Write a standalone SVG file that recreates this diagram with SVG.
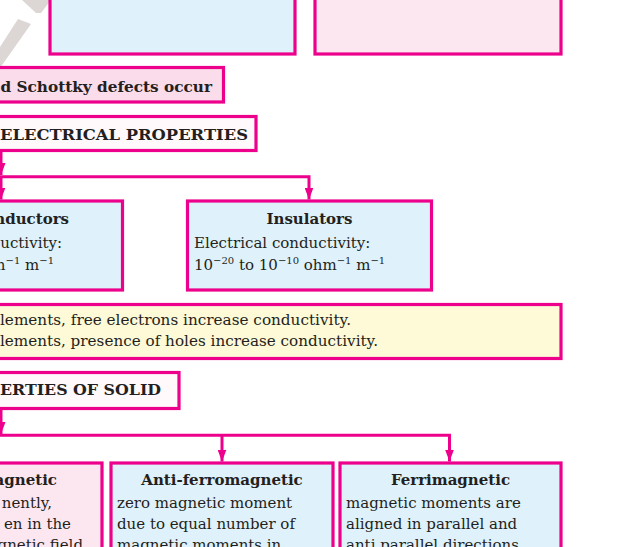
<svg xmlns="http://www.w3.org/2000/svg" width="638" height="547" viewBox="0 0 638 547">
<style>
.box{stroke:#ec008c;stroke-width:3.2}
.blue{fill:#dff1fb}
.pink{fill:#fce6f0}
.pink2{fill:#fbdcea}
.white{fill:#fff9fb}
.yellow{fill:#fef9d6}
.conn{fill:none;stroke:#ec008c;stroke-width:3}
.wm{fill:#dcd7d5}
text{font-family:"DejaVu Serif","Liberation Serif",serif;font-size:15px;fill:#231f20}
.b{font-weight:bold}
.sup{font-size:10px}
</style>
<defs>
<marker id="ah" markerUnits="userSpaceOnUse" markerWidth="12" markerHeight="9" refX="12" refY="4.5" orient="auto">
<path d="M0,0 L12,4.5 L0,9 z" fill="#ec008c"/>
</marker>
</defs>
<rect width="638" height="547" fill="#ffffff"/>
<g id="watermark">
<polygon class="wm" points="22,0 51,0 41,13 36,13"/>
<polygon class="wm" points="18,19 31,24 0,68 0,47"/>
</g>
<g id="top-blue"><rect class="box blue" x="50" y="-10" width="245" height="64"/></g>
<g id="top-pink"><rect class="box pink" x="315" y="-10" width="246" height="64"/></g>
<g id="schottky">
<rect class="box pink2" x="-10" y="67.5" width="233.5" height="34.5"/>
<text class="b" x="0.5" y="91.5" textLength="211.5" lengthAdjust="spacingAndGlyphs">d Schottky defects occur</text>
</g>
<g id="electrical">
<rect class="box white" x="-10" y="116.5" width="266" height="34"/>
<text class="b" x="0" y="139.5" textLength="248" lengthAdjust="spacingAndGlyphs">ELECTRICAL PROPERTIES</text>
</g>
<g id="conductors">
<rect class="box blue" x="-10" y="201" width="132.5" height="89"/>
<text class="b" x="69" y="223.5" text-anchor="end">nductors</text>
<text x="62" y="247.5" text-anchor="end">uctivity:</text>
<text x="54" y="269.5" text-anchor="end">m<tspan class="sup" dy="-6">−1</tspan><tspan dy="6"> m</tspan><tspan class="sup" dy="-6">−1</tspan></text>
</g>
<g id="insulators">
<rect class="box blue" x="187.5" y="201" width="244" height="89"/>
<text class="b" x="309.5" y="223.5" text-anchor="middle">Insulators</text>
<text x="194" y="247.5">Electrical conductivity:</text>
<text x="194" y="269.5">10<tspan class="sup" dy="-6">−20</tspan><tspan dy="6"> to 10</tspan><tspan class="sup" dy="-6">−10</tspan><tspan dy="6"> ohm</tspan><tspan class="sup" dy="-6">−1</tspan><tspan dy="6"> m</tspan><tspan class="sup" dy="-6">−1</tspan></text>
</g>
<g id="doping">
<rect class="box yellow" x="-10" y="304.5" width="571" height="54"/>
<text x="0" y="324.5" textLength="351" lengthAdjust="spacingAndGlyphs">lements, free electrons increase conductivity.</text>
<text x="0" y="345.5" textLength="378" lengthAdjust="spacingAndGlyphs">lements, presence of holes increase conductivity.</text>
</g>
<g id="magnetic-props">
<rect class="box white" x="-10" y="372.5" width="189" height="36"/>
<text class="b" x="0" y="395" textLength="161" lengthAdjust="spacingAndGlyphs">ERTIES OF SOLID</text>
</g>
<g id="ferromagnetic">
<rect class="box pink" x="-10" y="463" width="112" height="100"/>
<text class="b" x="57" y="485" text-anchor="end">agnetic</text>
<text x="52" y="508" text-anchor="end">nently,</text>
<text x="71" y="529" text-anchor="end">en in the</text>
<text x="83" y="550" text-anchor="end">gnetic field</text>
</g>
<g id="antiferromagnetic">
<rect class="box blue" x="111" y="463" width="222" height="100"/>
<text class="b" x="222" y="485" text-anchor="middle">Anti-ferromagnetic</text>
<text x="117" y="508">zero magnetic moment</text>
<text x="117" y="529">due to equal number of</text>
<text x="117" y="550">magnetic moments in</text>
</g>
<g id="ferrimagnetic">
<rect class="box blue" x="340" y="463" width="221" height="100"/>
<text class="b" x="450.5" y="485" text-anchor="middle">Ferrimagnetic</text>
<text x="346" y="508">magnetic moments are</text>
<text x="346" y="529">aligned in parallel and</text>
<text x="346" y="550">anti parallel directions</text>
</g>
<g id="connectors">
<path class="conn" d="M1,152 V175" marker-end="url(#ah)"/>
<path class="conn" d="M-5,176.7 H309 V199.5" marker-end="url(#ah)"/>
<path class="conn" d="M1,176.7 V199.5" marker-end="url(#ah)"/>
<path class="conn" d="M1,409 V434" marker-end="url(#ah)"/>
<path class="conn" d="M-5,435.3 H449.5 V461.5" marker-end="url(#ah)"/>
<path class="conn" d="M222,435.3 V461.5" marker-end="url(#ah)"/>
</g>
</svg>
